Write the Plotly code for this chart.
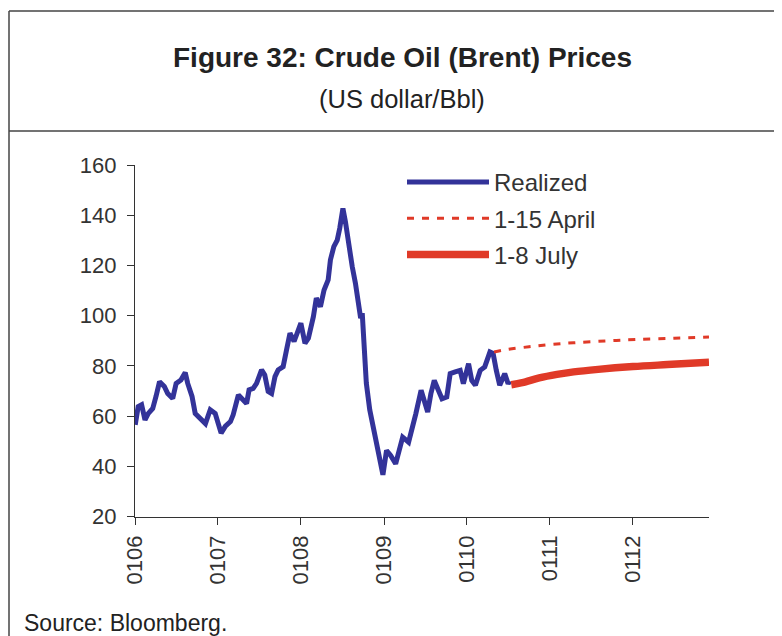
import plotly.graph_objects as go

# page body has an 8px margin, so the figure is sized to fill the rest of the window
OFF = 8
W, H = 782 - OFF, 636 - OFF

# ---------------- data ----------------
realized_dates = [
    "2006-01-02", "2006-01-15", "2006-01-30", "2006-02-14", "2006-02-28", "2006-03-20",
    "2006-04-04", "2006-04-19", "2006-05-10", "2006-05-25", "2006-06-16", "2006-07-01",
    "2006-07-22", "2006-08-10", "2006-08-21", "2006-09-09", "2006-09-23", "2006-10-15",
    "2006-11-07", "2006-11-28", "2006-12-20", "2007-01-15", "2007-02-03", "2007-02-25",
    "2007-03-09", "2007-04-01", "2007-04-19", "2007-05-07", "2007-05-18", "2007-06-05",
    "2007-06-20", "2007-07-12", "2007-07-26", "2007-08-10", "2007-08-25", "2007-09-09",
    "2007-09-23", "2007-10-15", "2007-10-30", "2007-11-14", "2007-12-02", "2007-12-16",
    "2008-01-01", "2008-01-19", "2008-02-03", "2008-02-25", "2008-03-09", "2008-03-27",
    "2008-04-12", "2008-04-30", "2008-05-10", "2008-05-25", "2008-06-09", "2008-06-20",
    "2008-07-04", "2008-07-15", "2008-07-30", "2008-08-14", "2008-08-28", "2008-09-13",
    "2008-09-20", "2008-09-27", "2008-10-04", "2008-10-15", "2008-10-30", "2008-11-14",
    "2008-11-25", "2008-12-06", "2008-12-16", "2008-12-27", "2009-01-12", "2009-01-30",
    "2009-02-21", "2009-03-05", "2009-03-24", "2009-04-19", "2009-05-07", "2009-05-21",
    "2009-06-13", "2009-06-27", "2009-07-12", "2009-07-26", "2009-08-10", "2009-08-28",
    "2009-09-13", "2009-10-04", "2009-10-19", "2009-11-10", "2009-12-02", "2009-12-16",
    "2010-01-08", "2010-01-22", "2010-02-07", "2010-02-28", "2010-03-20", "2010-04-12",
    "2010-04-26", "2010-05-10", "2010-05-25", "2010-06-16", "2010-07-01", "2010-07-08",
]
realized_values = [
    56.5, 63.8, 64.5, 58.5, 61.0, 63.0,
    68.0, 73.7, 71.8, 69.0, 67.0, 73.0,
    74.4, 77.3, 73.0, 67.8, 61.0, 59.0,
    57.0, 62.5, 61.0, 53.2, 56.0, 57.8,
    60.5, 68.4, 67.0, 65.0, 70.4, 71.0,
    73.0, 78.4, 76.4, 69.8, 69.0, 75.7,
    78.4, 79.7, 86.4, 93.0, 89.7, 93.0,
    97.0, 89.0, 91.0, 99.6, 107.0, 103.6,
    110.2, 114.2, 122.2, 127.5, 130.1, 134.8,
    142.7, 137.4, 127.5, 119.5, 112.9, 104.0,
    99.0, 101.0, 86.4, 73.1, 62.5, 55.8,
    50.5, 46.5, 42.6, 36.6, 46.3, 44.3,
    41.0, 45.0, 51.6, 49.6, 55.6, 61.0,
    70.3, 66.3, 61.6, 68.9, 74.2, 70.3,
    66.9, 67.6, 76.9, 77.6, 78.2, 72.9,
    80.9, 74.2, 72.3, 78.2, 79.6, 85.5,
    84.9, 78.2, 72.3, 76.9, 72.9, 74.0,
]

april_dates = ["2010-04-30", "2010-07-01", "2010-10-01", "2011-01-01", "2011-04-15",
               "2011-09-01", "2012-01-15", "2012-07-01", "2012-12-01"]
april_values = [85.5, 86.6, 87.6, 88.5, 89.2, 89.9, 90.5, 91.0, 91.5]

july_dates = ["2010-07-15", "2010-09-01", "2010-11-15", "2011-02-01", "2011-04-15",
              "2011-08-01", "2012-01-01", "2012-06-01", "2012-12-01"]
july_values = [72.5, 73.3, 75.2, 76.6, 77.6, 78.6, 79.7, 80.5, 81.4]

tick_vals = ["2006-01-01", "2007-01-01", "2008-01-01", "2009-01-01",
             "2010-01-01", "2011-01-01", "2012-01-01"]
tick_text = ["0106", "0107", "0108", "0109", "0110", "0111", "0112"]

title_text = "Figure 32: Crude Oil (Brent) Prices"
subtitle_text = "(US dollar/Bbl)"
source_text = "Source: Bloomberg."

BLUE = "#333399"
RED = "#E03A28"
TXT = "#333333"
FONT = "Liberation Sans, Arial, sans-serif"


def px(x):
    """window pixel x -> paper fraction"""
    return (x - OFF) / W


def py(y):
    """window pixel y -> paper fraction"""
    return 1 - (y - OFF) / H


fig = go.Figure()
fig.add_trace(go.Scatter(x=realized_dates, y=realized_values, mode="lines", name="Realized",
                         line=dict(color=BLUE, width=5), legendgroup="a"))
fig.add_trace(go.Scatter(x=april_dates, y=april_values, mode="lines", name="1-15 April",
                         line=dict(color=RED, width=3, dash="7px,8px", shape="spline"),
                         legendgroup="b"))
fig.add_trace(go.Scatter(x=july_dates, y=july_values, mode="lines", name="1-8 July",
                         line=dict(color=RED, width=7.5, shape="spline"), legendgroup="c"))

fig.update_layout(
    template="none",
    width=W, height=H,
    margin=dict(l=0, r=0, t=0, b=0, autoexpand=False),
    paper_bgcolor="white", plot_bgcolor="white",
    font=dict(family=FONT, size=22, color=TXT),
    showlegend=True,
    legend=dict(x=px(402), y=py(160), xanchor="left", yanchor="top",
                font=dict(family=FONT, size=24, color=TXT),
                bgcolor="rgba(0,0,0,0)", borderwidth=0, itemwidth=82, tracegroupgap=2,
                traceorder="grouped"),
    xaxis=dict(domain=[px(135), px(709)], range=["2006-01-01", "2012-12-01"],
               tickmode="array", tickvals=tick_vals, ticktext=tick_text,
               tickangle=-90, ticks="outside", ticklen=7, tickcolor="#333",
               showline=True, linecolor="#333", linewidth=1.3, showgrid=False,
               zeroline=False, ticklabelstandoff=2, automargin=False,
               tickfont=dict(family=FONT, size=22, color=TXT)),
    yaxis=dict(domain=[py(516.5), py(165)], range=[20, 160], dtick=20,
               ticks="outside", ticklen=7, tickcolor="#333",
               showline=True, linecolor="#333", linewidth=1.3, showgrid=False,
               zeroline=False, ticklabelstandoff=6, automargin=False,
               tickfont=dict(family=FONT, size=22, color=TXT)),
)

# frame lines
line_style = dict(color="#444444", width=1.5)
fig.add_shape(type="line", xref="paper", yref="paper", x0=px(9), x1=px(790), y0=py(11), y1=py(11), line=line_style)
fig.add_shape(type="line", xref="paper", yref="paper", x0=px(9), x1=px(790), y0=py(131), y1=py(131), line=line_style)
fig.add_shape(type="line", xref="paper", yref="paper", x0=px(9), x1=px(9), y0=py(11), y1=py(640), line=line_style)

fig.add_annotation(text=f"<b>{title_text}</b>", xref="paper", yref="paper",
                   x=px(402), y=py(57), xanchor="center", yanchor="middle", showarrow=False,
                   font=dict(family=FONT, size=28, color="#222"))
fig.add_annotation(text=subtitle_text, xref="paper", yref="paper",
                   x=px(402), y=py(99), xanchor="center", yanchor="middle", showarrow=False,
                   font=dict(family=FONT, size=25.5, color="#222"))
fig.add_annotation(text=source_text, xref="paper", yref="paper",
                   x=px(22), y=py(623), xanchor="left", yanchor="middle", showarrow=False,
                   font=dict(family=FONT, size=23, color="#222"))

fig.write_html("out.html")
